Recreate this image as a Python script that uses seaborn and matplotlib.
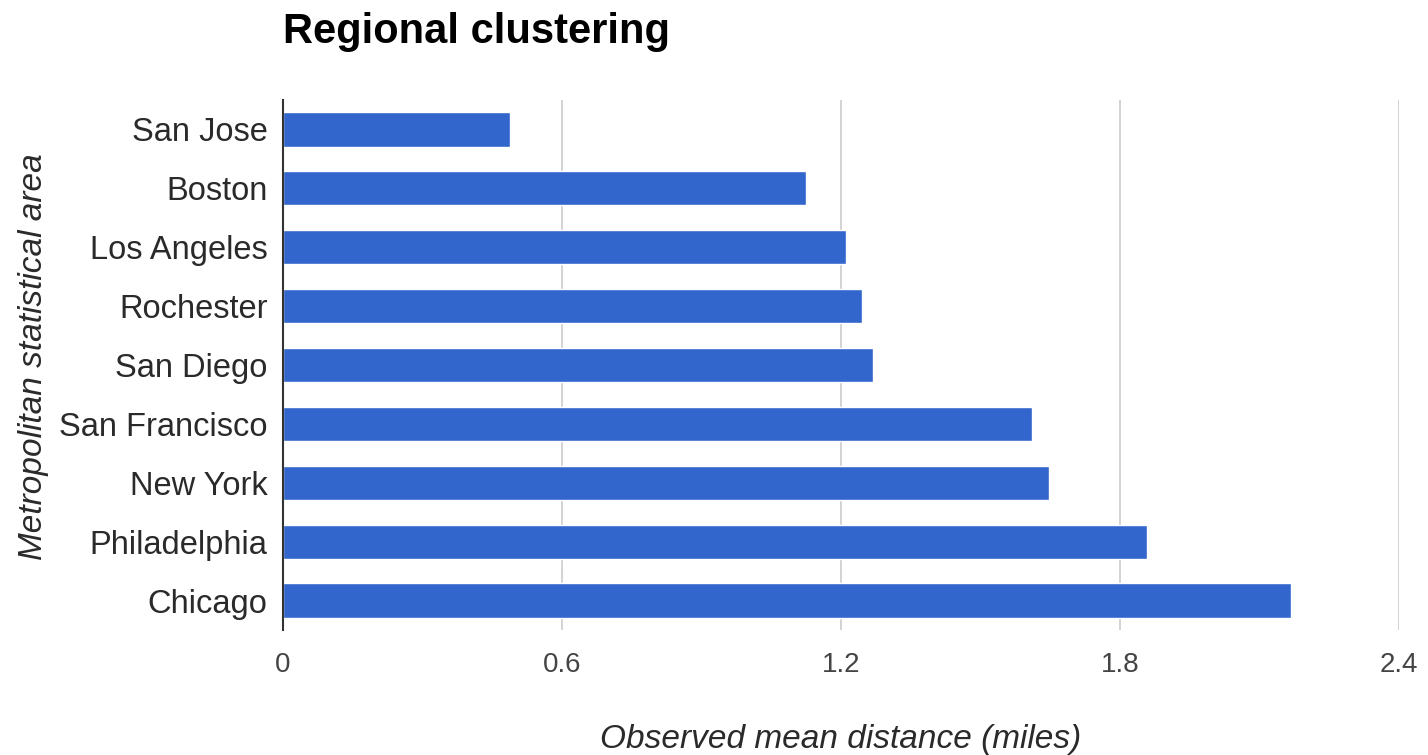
import matplotlib
matplotlib.use("Agg")
import matplotlib.pyplot as plt
import seaborn as sns
import pandas as pd

cities = ["San Jose", "Boston", "Los Angeles", "Rochester", "San Diego",
          "San Francisco", "New York", "Philadelphia", "Chicago"]
distances = [0.488, 1.125, 1.211, 1.245, 1.269, 1.611, 1.647, 1.858, 2.168]
x_ticks = [0, 0.6, 1.2, 1.8, 2.4]
x_tick_labels = ["0", "0.6", "1.2", "1.8", "2.4"]

sns.set_style("white")
plt.rcParams["font.family"] = ["Liberation Sans", "DejaVu Sans"]

df = pd.DataFrame({"city": cities, "distance": distances})

fig = plt.figure(figsize=(14.28, 7.55), dpi=100)
ax = fig.add_axes([0.198, 0.1656, 0.7817, 0.7019])

sns.barplot(data=df, x="distance", y="city", order=cities, color="#3366cc",
            saturation=1, width=0.58, ax=ax)

ax.set_xlim(0, 2.4)
ax.set_ylim(8.5, -0.5)
ax.set_xticks(x_ticks)
ax.set_xticklabels(x_tick_labels)
ax.xaxis.grid(True, color="#cccccc", linewidth=1.2)
ax.set_axisbelow(True)
for side in ["top", "right", "bottom"]:
    ax.spines[side].set_visible(False)
ax.spines["left"].set_color("#333333")
ax.spines["left"].set_linewidth(1.5)
ax.spines["left"].set_zorder(5)

ax.tick_params(axis="y", length=0, pad=11, labelsize=23.5, labelcolor="#2a2a2a")
ax.tick_params(axis="x", length=0, pad=16, labelsize=20, labelcolor="#444444")

ax.set_xlabel("Observed mean distance (miles)", fontsize=24, style="italic",
              color="#2a2a2a", labelpad=33)
ax.set_ylabel("Metropolitan statistical area", fontsize=24, style="italic",
              color="#2a2a2a")
ax.yaxis.set_label_coords(-0.209, 0.515)

fig.text(0.198, 0.957, "Regional clustering", fontsize=30, fontweight="bold",
         ha="left", va="center", color="#000000")

fig.savefig("out.png", dpi=100, facecolor="white")
